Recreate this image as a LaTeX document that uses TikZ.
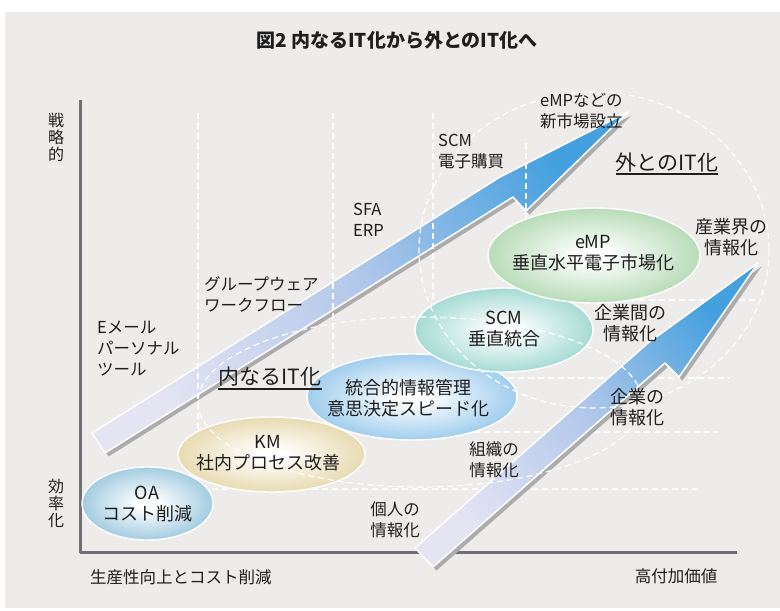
\documentclass[tikz,border=0pt]{standalone}
\usepackage{fontspec}
\setmainfont{Noto Sans CJK JP}
\usetikzlibrary{shapes.geometric}
\definecolor{bgc}{RGB}{237,236,234}
\definecolor{axc}{RGB}{112,112,116}
\definecolor{txt}{RGB}{30,30,30}
\definecolor{lav}{RGB}{228,228,243}
\definecolor{arrm}{RGB}{178,200,234}
\definecolor{arrb}{RGB}{68,160,222}
\definecolor{shd}{RGB}{172,172,172}
\definecolor{cOA}{RGB}{84,160,198}
\definecolor{cKM}{RGB}{212,188,110}
\definecolor{cINT}{RGB}{78,163,222}
\definecolor{cSCM}{RGB}{88,188,174}
\definecolor{cEMP}{RGB}{124,190,122}
\colorlet{ellc}{white}
\pgfdeclareradialshading[ellc]{ellshade}{\pgfpoint{0bp}{0bp}}{color(0bp)=(white); color(3bp)=(white); color(44bp)=(ellc); color(100bp)=(ellc)}
\begin{document}
\begin{tikzpicture}[x=1pt,y=-1pt,line join=round,
  dline/.style={draw=white, line width=1.2pt, dash pattern=on 6pt off 4pt},
  ellc/.code={\colorlet{ellc}{#1}},
  ellbox/.style={ellipse, shade, shading=ellshade, draw=white, line width=1.4pt, inner sep=0pt},
  elltxt/.style={align=center, text=txt, font=\fontsize{18}{21.5}\selectfont, inner sep=0pt},
  lbl/.style={align=left, text=txt, font=\fontsize{16.5}{21}\selectfont, inner sep=0pt, anchor=west},
  lblc/.style={align=center, text=txt, font=\fontsize{16.5}{21}\selectfont, inner sep=0pt},
  lblr/.style={align=center, text=txt, font=\fontsize{18}{21}\selectfont, inner sep=0pt},
  bigt/.style={text=txt, font=\fontsize{21}{24}\selectfont, inner sep=0pt},
  vert/.style={align=center, text=txt, font=\fontsize{16}{17}\selectfont, inner sep=0pt},
  arrowfill/.style={draw=white, line width=1.5pt}
]
\useasboundingbox (0,0) rectangle (780,611);
\fill[white] (0,0) rectangle (780,611);
\fill[bgc] (5,12) rectangle (780,608);
% title
\node[text=txt, font=\fontsize{19}{22}\selectfont\bfseries, inner sep=0pt] (title) at (397,40) {図2 内なるIT化から外とのIT化へ};
% axes
\draw[axc, line width=3pt] (80,100) -- (80,552) -- (737,552);
% arrow 1 (upper)
\begin{scope}[shift={(3.5,3.5)}]
\fill[shd] (92,433) -- (500,177) -- (628,112) -- (526,211) -- (513,197) -- (105,453) -- cycle;
\end{scope}
\shade[top color=arrb, bottom color=lav, middle color=arrm, shading angle=-58, arrowfill] (92,433) -- (500,177) -- (628,112) -- (526,211) -- (513,197) -- (105,453) -- cycle;
% level lines
\draw[dline] (198,113) -- (198,489) -- (700,489);
\draw[dline] (333,113) -- (333,432) -- (717,432);
\draw[dline] (433,113) -- (433,378) -- (730,378);
\draw[dline] (526,143) -- (526,300) -- (755,300);
% arrow 2 (lower)
\begin{scope}[shift={(3.5,3.5)}]
\fill[shd] (415,548) -- (648,343) -- (758,263) -- (679,377) -- (665,363) -- (433,567) -- cycle;
\end{scope}
\shade[top color=arrb, bottom color=lav, middle color=arrm, shading angle=-49, arrowfill] (415,548) -- (648,343) -- (758,263) -- (679,377) -- (665,363) -- (433,567) -- cycle;
% ellipses
\node[ellbox, ellc=cOA, minimum width=131, minimum height=73] (oa) at (147.5,503.5) {};
\node[ellbox, ellc=cKM, minimum width=187, minimum height=75] (km) at (271.5,454.5) {};
\node[ellbox, ellc=cINT, minimum width=210, minimum height=86] (int) at (412,397) {};
\node[ellbox, ellc=cSCM, minimum width=178, minimum height=84] (scm) at (504,330) {};
\node[ellbox, ellc=cEMP, minimum width=212, minimum height=95] (emp) at (594,255.5) {};
% dashed circles
\draw[dline] (594,250) ellipse [x radius=175, y radius=158];
\draw[dline] (420,402) ellipse [x radius=222, y radius=85];
% ellipse texts
\node[elltxt] (oat) at (147,504) {OA\\コスト削減};
\node[elltxt] (kmt) at (268,453) {KM\\社内プロセス改善};
\node[elltxt] (intt) at (408,398) {統合的情報管理\\意思決定スピード化};
\node[elltxt] (scmt) at (504,329) {SCM\\垂直統合};
\node[elltxt] (empt) at (593,253) {eMP\\垂直水平電子市場化};
% labels
\node[lbl] (l1) at (97,348) {Eメール\\パーソナル\\ツール};
\node[lbl] (l2) at (204,294) {グループウェア\\ワークフロー};
\node[lbl] (l3) at (353,220) {SFA\\ERP};
\node[lbl] (l4) at (438,152) {SCM\\電子購買};
\node[lbl] (l5) at (540,111) {eMPなどの\\新市場設立};
\node[bigt] (soto) at (667,162) {外とのIT化};
\draw[txt, line width=1.3pt] ([yshift=-4]soto.base west) -- ([yshift=-4]soto.base east);
\node[bigt] (nai) at (270,377) {内なるIT化};
\draw[txt, line width=1.3pt] ([yshift=-4]nai.base west) -- ([yshift=-4]nai.base east);
\node[lblr] (r1) at (731,237) {産業界の\\情報化};
\node[lblr] (r2) at (630,323) {企業間の\\情報化};
\node[lblr] (r3) at (637,407) {企業の\\情報化};
\node[lblc] (r4) at (494,460) {組織の\\情報化};
\node[lblc] (r5) at (395,520) {個人の\\情報化};
% axis labels
\node[vert] (ya1) at (56,137) {戦\\略\\的};
\node[vert] (ya2) at (56,503) {効\\率\\化};
\node[lbl] (xa1) at (90,577) {生産性向上とコスト削減};
\node[lblc] (xa2) at (676,576) {高付加価値};
\end{tikzpicture}
\end{document}
